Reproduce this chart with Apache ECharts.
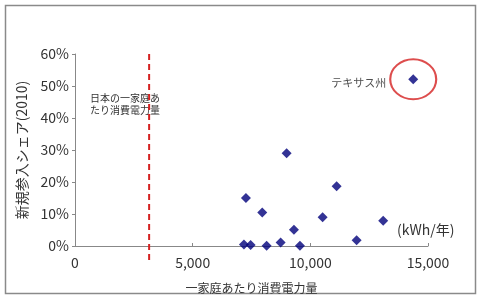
<!DOCTYPE html>
<html><head><meta charset="utf-8">
<script src="https://cdn.jsdelivr.net/npm/echarts@6/dist/echarts.min.js"></script>
<style>html,body{margin:0;padding:0;background:#fff}#c{width:482px;height:300px}</style>
</head><body><div id="c"></div>
<script>
// consumption per household (kWh/year) and new entrant share (%)
const consumption = [8993, 7264, 7957, 11117, 10522, 13097, 9303, 11966, 7179, 7463, 8143, 8738, 9558];
const share = [29.0, 15.0, 10.5, 18.7, 9.0, 7.9, 5.1, 1.8, 0.5, 0.3, 0.1, 1.1, 0.1];
const texas = [14372, 52.1];
const japanAvg = 3150;
const xTicks = [0, 5000, 10000, 15000];
const yTicks = [0, 10, 20, 30, 40, 50, 60];

const font = '"Noto Sans CJK JP", "Noto Sans", sans-serif';
const chart = echarts.init(document.getElementById('c'));
chart.setOption({
  animation: false,
  backgroundColor: '#fff',
  grid: {left: 75, right: 54, top: 54, bottom: 54},
  xAxis: {
    type: 'value', min: xTicks[0], max: xTicks[xTicks.length - 1], interval: 5000,
    name: '一家庭あたり消費電力量', nameLocation: 'middle', nameGap: 36,
    nameTextStyle: {color: '#333', fontSize: 12, fontFamily: font},
    axisLine: {lineStyle: {color: '#888'}},
    axisTick: {show: true, inside: true, length: 3, lineStyle: {color: '#888'}},
    splitLine: {show: false},
    axisLabel: {color: '#333', fontSize: 14, fontFamily: font, margin: 10,
      formatter: v => v.toLocaleString('en-US')}
  },
  yAxis: {
    type: 'value', min: yTicks[0], max: yTicks[yTicks.length - 1], interval: 10,
    name: '新規参入シェア(2010)', nameLocation: 'middle', nameGap: 46, nameRotate: 90,
    nameTextStyle: {color: '#333', fontSize: 14, fontFamily: font},
    axisLine: {show: true, lineStyle: {color: '#888'}},
    axisTick: {show: true, length: 3, lineStyle: {color: '#888'}},
    splitLine: {show: false},
    axisLabel: {color: '#333', fontSize: 14, fontFamily: font, margin: 6, formatter: '{value}%'}
  },
  graphic: [
    {type: 'rect', shape: {x: 5.5, y: 5.5, width: 470, height: 288},
      style: {fill: 'none', stroke: '#8a8a8a', lineWidth: 1.5}, z: 0},
    {type: 'text', left: 397, top: 223,
      style: {text: '(kWh/年)', fill: '#333', fontSize: 14, fontFamily: font}},
    {type: 'text', left: 90, top: 92,
      style: {text: '日本の一家庭あ\nたり消費電力量', fill: '#333', fontSize: 10, lineHeight: 12, fontFamily: font}}
  ],
  series: [
    {
      type: 'line', clip: false, symbol: 'none', silent: true,
      data: [[japanAvg, 60], [japanAvg, -4.5]],
      lineStyle: {color: '#d42020', width: 2, type: [6, 4]}, z: 3
    },
    {
      type: 'scatter', symbol: 'diamond', symbolSize: 10,
      itemStyle: {color: '#00007a'},
      data: consumption.map((c, i) => [c, share[i]]), z: 5
    },
    {
      type: 'scatter', symbol: 'diamond', symbolSize: 10,
      itemStyle: {color: '#00007a'}, data: [texas], z: 5
    },
    {
      type: 'scatter', symbol: 'circle', symbolSize: [46, 40], silent: true,
      itemStyle: {color: 'rgba(0,0,0,0)', borderColor: '#d42020', borderWidth: 2},
      label: {show: true, position: 'left', distance: 3, offset: [0, 4], formatter: 'テキサス州',
        color: '#222', fontSize: 11, fontFamily: font},
      data: [texas], z: 4
    }
  ]
});
</script></body></html>
